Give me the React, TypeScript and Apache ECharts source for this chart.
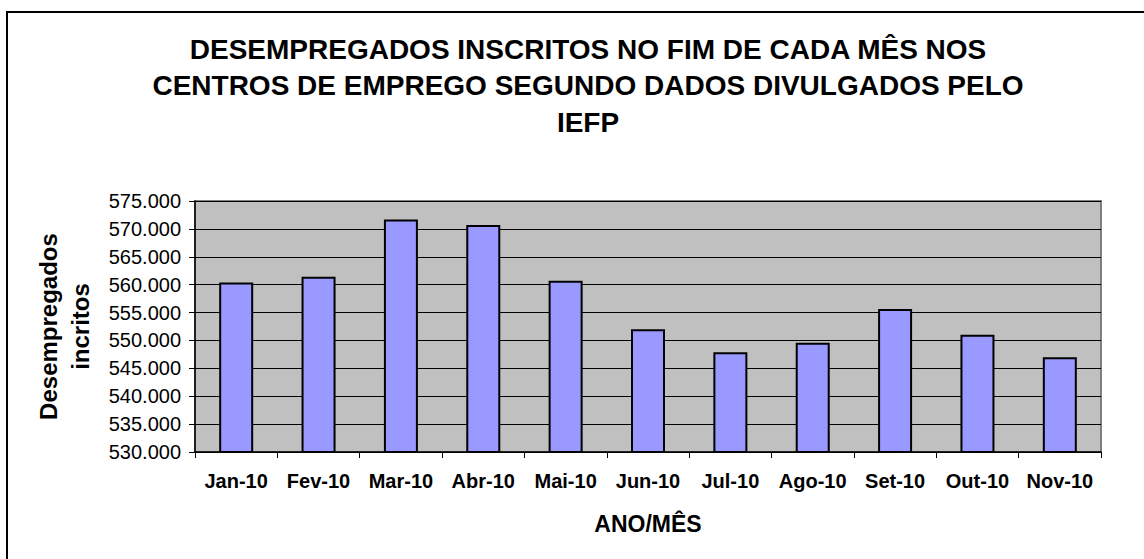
import React, { useEffect, useRef } from "react";
import * as echarts from "echarts";

const titleLines = [
  "DESEMPREGADOS INSCRITOS NO FIM DE CADA MÊS NOS",
  "CENTROS DE EMPREGO SEGUNDO DADOS DIVULGADOS PELO",
  "IEFP",
];
const categories = ["Jan-10", "Fev-10", "Mar-10", "Abr-10", "Mai-10", "Jun-10", "Jul-10", "Ago-10", "Set-10", "Out-10", "Nov-10"];
const desempregados = [560400, 561400, 571700, 570700, 560700, 552000, 547900, 549600, 555650, 551000, 547000];
const yMin = 530000;
const yMax = 575000;
const yStep = 5000;
const xAxisTitle = "ANO/MÊS";
const yAxisTitle = "Desempregados\nincritos";

const FONT = "'Liberation Sans', Arial, sans-serif";

function fmt(v: number): string {
  return String(Math.round(v)).replace(/\B(?=(\d{3})+(?!\d))/g, ".");
}

export default function App() {
  const ref = useRef<HTMLDivElement>(null);
  useEffect(() => {
    if (!ref.current) return;
    const chart = echarts.init(ref.current, null, { renderer: "svg" });
    chart.setOption({
      animation: false,
      backgroundColor: "#ffffff",
      textStyle: { fontFamily: FONT },
      title: {
        text: titleLines.join("\n"),
        left: 583,
        top: 26,
        textAlign: "center",
        textStyle: {
          fontFamily: FONT,
          fontSize: 28,
          fontWeight: "bold",
          color: "#000",
          lineHeight: 36.5,
        },
      },
      graphic: [
        {
          type: "rect",
          shape: { x: 7, y: 12, width: 1300, height: 700 },
          style: { fill: "none", stroke: "#000", lineWidth: 2 },
          silent: true,
        },
      ],
      grid: {
        left: 195,
        right: 43,
        top: 201,
        bottom: 107,
        show: true,
        backgroundColor: "#C0C0C0",
        borderColor: "#808080",
        borderWidth: 2,
      },
      xAxis: {
        type: "category",
        data: categories,
        name: xAxisTitle,
        nameLocation: "middle",
        nameGap: 60,
        nameTextStyle: { fontFamily: FONT, fontSize: 23, fontWeight: "bold", color: "#000" },
        axisLine: { lineStyle: { color: "#000", width: 1.5 } },
        axisTick: { show: true, length: 6, lineStyle: { color: "#000" }, alignWithLabel: false },
        axisLabel: {
          fontFamily: FONT,
          fontSize: 20,
          fontWeight: "bold",
          color: "#000",
          margin: 19,
          interval: 0,
        },
        splitLine: { show: false },
      },
      yAxis: {
        type: "value",
        min: yMin,
        max: yMax,
        interval: yStep,
        name: yAxisTitle,
        nameLocation: "middle",
        nameRotate: 90,
        nameGap: 99,
        nameTextStyle: {
          fontFamily: FONT,
          fontSize: 24,
          fontWeight: "bold",
          color: "#000",
          lineHeight: 32,
          align: "center",
        },
        axisLine: { show: true, lineStyle: { color: "#000", width: 1.5 } },
        axisTick: { show: true, length: 6, lineStyle: { color: "#000" } },
        axisLabel: {
          fontFamily: FONT,
          fontSize: 20,
          color: "#000",
          margin: 14,
          formatter: (v: number) => fmt(v),
        },
        splitLine: { show: true, lineStyle: { color: "#000", width: 1 } },
      },
      series: [
        {
          type: "bar",
          data: desempregados,
          barWidth: 34,
          itemStyle: { color: "#9999FF", borderColor: "#000", borderWidth: 2 },
        },
      ],
    });
    return () => chart.dispose();
  }, []);
  return (
    <div
      ref={ref}
      style={{ position: "fixed", left: 0, top: 0, width: 1144, height: 559 }}
    />
  );
}
